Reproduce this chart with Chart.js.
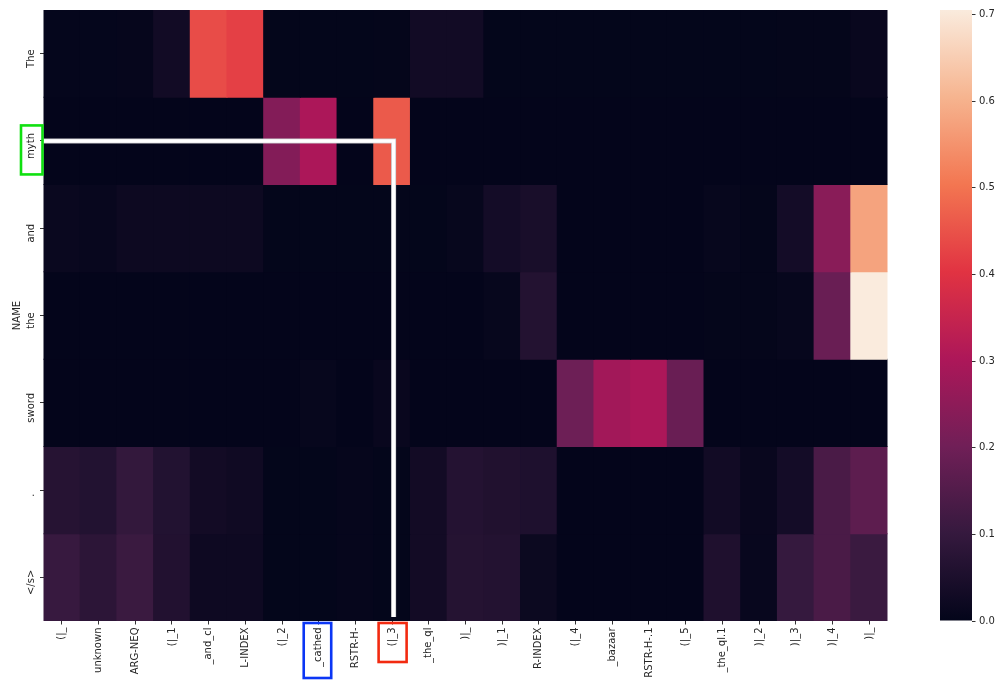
<!DOCTYPE html>
<html>
<head>
<meta charset="utf-8">
<script src="https://cdn.jsdelivr.net/npm/chart.js@4.4.1/dist/chart.umd.min.js"></script>
<style>
  html, body { margin: 0; padding: 0; background: #ffffff; }
  #wrap { position: relative; width: 995px; height: 682px; }
  #wrap canvas { position: absolute; top: 0; }
</style>
</head>
<body>
<div id="wrap">
  <canvas id="heat" width="995" height="682" style="left:0"></canvas>
  <canvas id="cbar" width="65" height="682" style="left:930px"></canvas>
</div>
<script>
// Attention weights: one row per output word, one column per input graph token
const rowLabels = ['The', 'myth', 'and', 'the', 'sword', '.', '</s>'];
const colLabels = ['(|_', 'unknown', 'ARG-NEQ', '(|_1', '_and_cl', 'L-INDEX', '(|_2', '_cathed',
  'RSTR-H-', '(|_3', '_the_ql', ')|_', ')|_1', 'R-INDEX', '(|_4', '_bazaar', 'RSTR-H-.1',
  '(|_5', '_the_ql.1', ')|_2', ')|_3', ')|_4', ')|_'];

const wThe   = [0.005, 0.005, 0.006, 0.030, 0.440, 0.422, 0.003, 0.003, 0.003, 0.004, 0.030, 0.030,
                0.003, 0.003, 0.003, 0.003, 0.003, 0.003, 0.003, 0.003, 0.004, 0.004, 0.012];
const wMyth  = [0.002, 0.002, 0.002, 0.002, 0.002, 0.002, 0.233, 0.300, 0.002, 0.461, 0.002, 0.002,
                0.002, 0.002, 0.002, 0.002, 0.002, 0.002, 0.002, 0.002, 0.002, 0.002, 0.002];
const wAnd   = [0.015, 0.010, 0.020, 0.020, 0.020, 0.020, 0.003, 0.003, 0.003, 0.003, 0.003, 0.008,
                0.035, 0.045, 0.002, 0.002, 0.002, 0.002, 0.008, 0.004, 0.035, 0.243, 0.576];
const wThe2  = [0.002, 0.002, 0.002, 0.002, 0.002, 0.002, 0.002, 0.002, 0.002, 0.002, 0.002, 0.002,
                0.008, 0.065, 0.002, 0.002, 0.002, 0.002, 0.004, 0.004, 0.008, 0.190, 0.705];
const wSword = [0.002, 0.002, 0.002, 0.002, 0.002, 0.002, 0.002, 0.008, 0.002, 0.012, 0.002, 0.002,
                0.002, 0.002, 0.197, 0.284, 0.300, 0.190, 0.002, 0.002, 0.002, 0.002, 0.002];
const wDot   = [0.070, 0.063, 0.096, 0.063, 0.032, 0.026, 0.003, 0.003, 0.006, 0.003, 0.032, 0.066,
                0.060, 0.055, 0.002, 0.002, 0.002, 0.002, 0.030, 0.012, 0.035, 0.137, 0.169];
const wEos   = [0.104, 0.082, 0.110, 0.062, 0.022, 0.022, 0.003, 0.003, 0.006, 0.003, 0.032, 0.068,
                0.065, 0.018, 0.002, 0.002, 0.002, 0.002, 0.056, 0.010, 0.100, 0.137, 0.110];
const weights = [wThe, wMyth, wAnd, wThe2, wSword, wDot, wEos];

const cbTicks = [0.0, 0.1, 0.2, 0.3, 0.4, 0.5, 0.6, 0.7];

// highlighted tokens
const focusRow = 1;      // "myth"
const focusCol = 9;      // "(|_3"
const alignedCol = 7;    // "_cathed"

const FONT = 'DejaVu Sans';
const TEXT = '#262626';
const vmax = Math.max(...weights.flat());

// rocket colour map, evenly spaced stops from 0 to vmax
const rocket = ['#03051a', '#35193e', '#701f57', '#ad1759', '#e13342', '#f37651', '#f6b48f', '#faebdd'];
function hexRgb(h) { return [1, 3, 5].map(i => parseInt(h.slice(i, i + 2), 16)); }
const rocketRgb = rocket.map(hexRgb);
function colorFor(v) {
  const t = Math.min(1, Math.max(0, v / vmax)) * (rocket.length - 1);
  const i = Math.min(rocket.length - 2, Math.floor(t));
  const f = t - i;
  const a = rocketRgb[i], b = rocketRgb[i + 1];
  const c = a.map((x, k) => Math.round(x + (b[k] - x) * f));
  return `rgb(${c[0]},${c[1]},${c[2]})`;
}

const datasets = weights.map((vals, r) => ({
  label: rowLabels[r],
  data: vals.map(() => [r, r + 1]),
  backgroundColor: vals.map(colorFor),
  borderWidth: 0,
  barPercentage: 1,
  categoryPercentage: 1,
  grouped: false,
  inflateAmount: 0.5
}));

// row labels, pointer path and highlight boxes
const overlay = {
  id: 'overlay',
  afterDraw(chart) {
    const { ctx } = chart;
    const xs = chart.scales.x, ys = chart.scales.y;
    ctx.save();
    ctx.font = `10px "${FONT}"`;
    ctx.fillStyle = TEXT;
    ctx.textAlign = 'center';
    ctx.textBaseline = 'middle';
    rowLabels.forEach((lab, i) => {
      const y = ys.getPixelForValue(i + 0.5) + 5;
      ctx.save();
      ctx.translate(ys.right - 12, y);
      ctx.rotate(-Math.PI / 2);
      ctx.fillText(lab, 0, 0);
      ctx.restore();
    });

    const yRow = ys.getPixelForValue(focusRow + 0.5);
    const xCol = xs.getPixelForValue(focusCol) + 1.5;
    const yEnd = ys.bottom - 4;
    ctx.lineJoin = 'miter';
    ctx.beginPath();
    ctx.moveTo(xs.left, yRow);
    ctx.lineTo(xCol, yRow);
    ctx.lineTo(xCol, yEnd);
    ctx.strokeStyle = '#c8c8cc';
    ctx.lineWidth = 5;
    ctx.stroke();
    ctx.strokeStyle = '#ffffff';
    ctx.lineWidth = 3.5;
    ctx.stroke();

    ctx.lineWidth = 2.6;
    ctx.strokeStyle = '#10e010';
    ctx.strokeRect(ys.right - 22.5, yRow - 15.5, 21.5, 49);

    const xa = xs.getPixelForValue(alignedCol);
    ctx.strokeStyle = '#0b36f5';
    ctx.strokeRect(xa - 15, xs.top + 2, 27.5, 55);

    const xf = xs.getPixelForValue(focusCol);
    ctx.strokeStyle = '#f22a10';
    ctx.strokeRect(xf - 13.5, xs.top + 2, 28, 39);
    ctx.restore();
  }
};

new Chart(document.getElementById('heat'), {
  type: 'bar',
  data: { labels: colLabels, datasets },
  options: {
    responsive: false,
    animation: false,
    devicePixelRatio: 1,
    layout: { padding: { top: 10, right: 107.5, left: 0, bottom: 0 } },
    plugins: { legend: { display: false }, tooltip: { enabled: false } },
    scales: {
      x: {
        type: 'category',
        offset: true,
        grid: { drawOnChartArea: false, offset: false, tickLength: 3.5, tickColor: '#333333' },
        border: { display: false },
        ticks: { minRotation: 90, maxRotation: 90, autoSkip: false, padding: 3,
                 font: { family: FONT, size: 10 }, color: TEXT },
        afterFit: s => { s.height = 61; }
      },
      y: {
        type: 'linear',
        min: 0,
        max: rowLabels.length,
        reverse: true,
        afterBuildTicks: s => { s.ticks = rowLabels.map((_, i) => ({ value: i + 0.5 })); },
        afterFit: s => { s.width = 43.5; },
        ticks: { display: false },
        grid: { drawOnChartArea: false, tickLength: 3.5, tickColor: '#333333' },
        border: { display: false },
        title: { display: true, text: 'NAME', color: TEXT,
                 font: { family: FONT, size: 10 }, padding: { top: 11, bottom: 0 } }
      }
    }
  },
  plugins: [overlay]
});

// colour bar
new Chart(document.getElementById('cbar'), {
  type: 'bar',
  data: {
    labels: [''],
    datasets: [{
      data: [[0, vmax]],
      borderWidth: 0,
      barPercentage: 1,
      categoryPercentage: 1,
      inflateAmount: 0,
      backgroundColor: c => {
        const a = c.chart.chartArea;
        if (!a) return rocket[0];
        const g = c.chart.ctx.createLinearGradient(0, a.bottom, 0, a.top);
        rocket.forEach((col, i) => g.addColorStop(i / (rocket.length - 1), col));
        return g;
      }
    }]
  },
  options: {
    responsive: false,
    animation: false,
    devicePixelRatio: 1,
    layout: { padding: { top: 10, bottom: 61, left: 10, right: 0 } },
    plugins: { legend: { display: false }, tooltip: { enabled: false } },
    scales: {
      x: { display: false },
      y: {
        position: 'right',
        min: 0,
        max: vmax,
        afterBuildTicks: s => { s.ticks = cbTicks.map(v => ({ value: v })); },
        afterFit: s => { s.width = 23; },
        ticks: { callback: v => v.toFixed(1), padding: 3.5,
                 font: { family: FONT, size: 10 }, color: TEXT },
        grid: { drawOnChartArea: false, tickLength: 3.5, tickColor: '#333333' },
        border: { display: false }
      }
    }
  }
});
</script>
</body>
</html>
